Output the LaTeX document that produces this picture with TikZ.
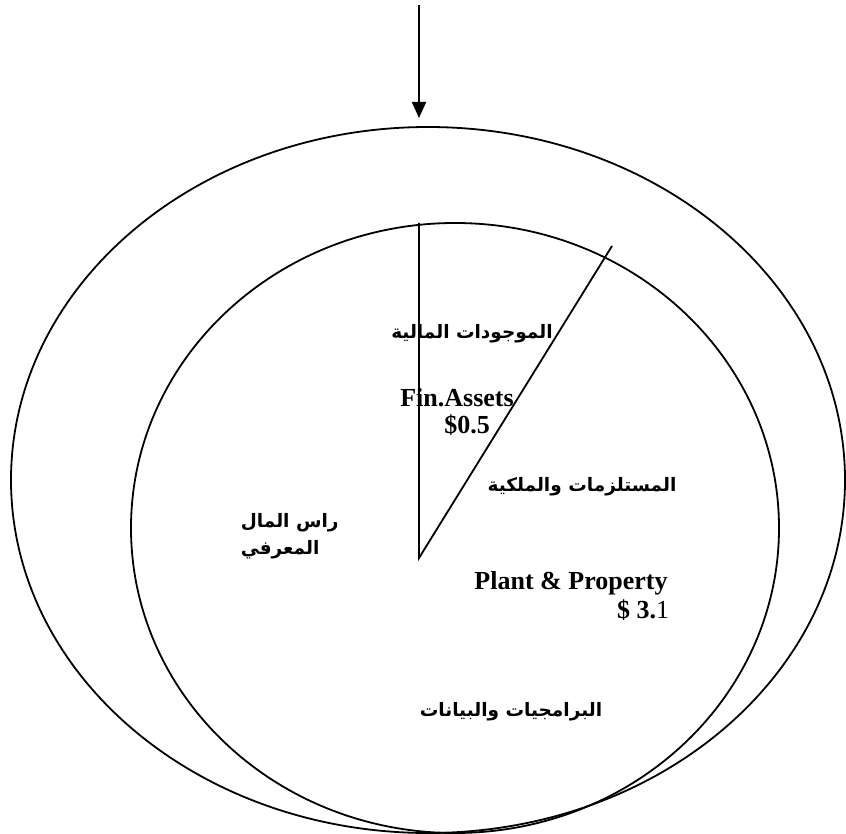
\documentclass[tikz,border=0pt]{standalone}
\usepackage{fontspec}
\setmainfont{Liberation Serif}
\newfontfamily\arabicfont[Script=Arabic]{DejaVu Sans}
\TeXXeTstate=1
\usetikzlibrary{arrows.meta}

\begin{document}
\begin{tikzpicture}[x=1pt, y=-1pt, line width=1.8pt,
    lab/.style={inner sep=0pt, font=\fontsize{26}{30}\selectfont\bfseries},
    arlab/.style={inner sep=0pt, font=\arabicfont\fontsize{18.5}{23}\selectfont\bfseries}]
    \useasboundingbox (0,0) rectangle (846,834);

    \draw [-{Triangle[length=16pt,width=14pt]}] (419,5) coordinate (arrowtop) -- (419,118) coordinate (arrowtip);

    \draw (428,480) ellipse [x radius=417pt, y radius=353pt];
    \draw (455,528) ellipse [x radius=324pt, y radius=305pt];

    \coordinate (apex) at (419,558);
    \coordinate (vtop) at (419,223);
    \coordinate (dtop) at (612,246);
    \draw (vtop) -- (apex) -- (dtop);

    \node [arlab] (finar) at (472,334) {\beginR الموجودات المالية\endR};
    \node [lab] (fin) at (457,398) {Fin.Assets};
    \node [lab] (finval) at (467,425) {\$0.5};

    \node [arlab] (plantar) at (582,487) {\beginR المستلزمات والملكية\endR};
    \node [lab] (plant) at (571,583) {Plant \& Property};
    \node [lab, anchor=east] (plantval) at (670,610) {\$ 3.\mdseries 1};

    \node [arlab, anchor=west] (knowa) at (240,523) {\beginR راس  المال\endR};
    \node [arlab, anchor=west] (knowb) at (240,550) {\beginR المعرفي\endR};

    \node [arlab] (soft) at (511,712) {\beginR البرامجيات والبيانات\endR};
\end{tikzpicture}
\end{document}
